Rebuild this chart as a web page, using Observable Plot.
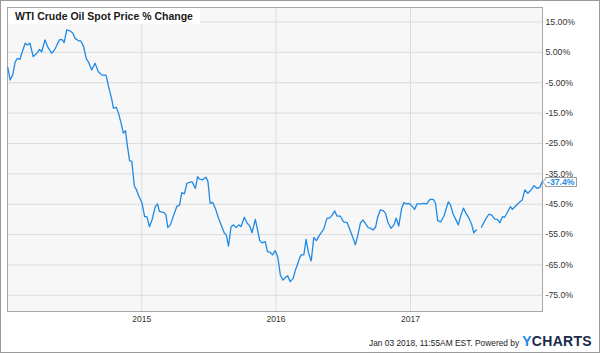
<!DOCTYPE html>
<html>
<head>
<meta charset="utf-8">
<script src="https://cdn.jsdelivr.net/npm/d3@7"></script>
<script src="https://cdn.jsdelivr.net/npm/@observablehq/plot@0.6"></script>
<style>
  html, body { margin: 0; padding: 0; background: #fff; }
  #wrap { position: relative; width: 600px; height: 353px; overflow: hidden; background: #fff; font-family: 'Liberation Sans', Arial, sans-serif; }
  #chart { position: absolute; left: 0; top: 0; }
  #outer { position: absolute; left: 0; top: 0; width: 600px; height: 353px; box-sizing: border-box; border: 1px solid #9a9a9a; pointer-events: none; }
  #title { position: absolute; left: 8px; top: 8px; width: 185px; height: 16px; padding-left: 7px; background: #fff; font-weight: bold; font-size: 10.5px; line-height: 17px; color: #1a1a1a; white-space: nowrap; }
  #credit { position: absolute; right: 8px; top: 333px; display: flex; align-items: baseline; white-space: nowrap; color: #222; font-size: 8.4px; }
  #credit .logo { font-size: 14px; font-weight: bold; margin-left: 3px; color: #1b2a48; letter-spacing: 0.3px; }
  #credit .logo .y { color: #1e8ae6; }
</style>
</head>
<body>
<div id="wrap">
  <div id="chart"></div>
  <div id="title"></div>
  <div id="credit"></div>
  <div id="outer"></div>
</div>
<script>
const titleText = "WTI Crude Oil Spot Price % Change";
const creditText = "Jan 03 2018, 11:55AM EST.  Powered by";
const logoText = ["Y", "CHARTS"];

const yTicks = [15, 5, -5, -15, -25, -35, -45, -55, -65, -75];
const yTickLabels = ["15.00%", "5.00%", "-5.00%", "-15.0%", "-25.0%", "-35.0%", "-45.0%", "-55.0%", "-65.0%", "-75.0%"];
const xTicks = ["2015-01-01", "2016-01-01", "2017-01-01"];
const xTickLabels = ["2015", "2016", "2017"];

const dates = [
  "2014-01-02","2014-01-08","2014-01-15","2014-01-22","2014-01-28","2014-02-04","2014-02-09","2014-02-18","2014-02-24","2014-03-03",
  "2014-03-12","2014-03-22","2014-03-29","2014-04-04","2014-04-13","2014-04-20","2014-05-01","2014-05-10","2014-05-22","2014-05-29",
  "2014-06-04","2014-06-11","2014-06-20","2014-06-28","2014-07-04","2014-07-13","2014-07-19","2014-07-27","2014-08-03","2014-08-09",
  "2014-08-18","2014-08-27","2014-09-05","2014-09-15","2014-09-26","2014-10-03","2014-10-12","2014-10-16","2014-10-24","2014-10-30",
  "2014-11-05","2014-11-12","2014-11-18","2014-11-22","2014-11-29","2014-12-05","2014-12-12","2014-12-17","2014-12-23","2015-01-02",
  "2015-01-09","2015-01-15","2015-01-22","2015-01-29","2015-02-07","2015-02-13","2015-02-18","2015-03-03","2015-03-08","2015-03-13",
  "2015-03-20","2015-03-29","2015-04-07","2015-04-14","2015-04-20","2015-04-27","2015-05-04","2015-05-11","2015-05-18","2015-05-27",
  "2015-06-02","2015-06-07","2015-06-15","2015-06-24","2015-06-30","2015-07-06","2015-07-13","2015-07-20","2015-07-29","2015-08-07",
  "2015-08-14","2015-08-19","2015-08-25","2015-09-01","2015-09-08","2015-09-15","2015-09-22","2015-09-28","2015-10-07","2015-10-14",
  "2015-10-22","2015-10-28","2015-11-06","2015-11-11","2015-11-18","2015-11-24","2015-12-03","2015-12-09","2015-12-17","2015-12-23",
  "2015-12-30","2016-01-06","2016-01-13","2016-01-20","2016-01-27","2016-02-02","2016-02-09","2016-02-17","2016-02-23","2016-02-28",
  "2016-03-06","2016-03-10","2016-03-17","2016-03-23","2016-03-30","2016-04-06","2016-04-13","2016-04-20","2016-04-29","2016-05-10",
  "2016-05-19","2016-05-26","2016-06-02","2016-06-09","2016-06-15","2016-06-24","2016-07-03","2016-07-13","2016-07-22","2016-07-29",
  "2016-08-04","2016-08-11","2016-08-18","2016-08-25","2016-08-31","2016-09-08","2016-09-14","2016-09-21","2016-09-28","2016-10-04",
  "2016-10-11","2016-10-19","2016-10-25","2016-11-01","2016-11-09","2016-11-17","2016-11-23","2016-11-30","2016-12-08","2016-12-14",
  "2016-12-21","2016-12-27","2017-01-03","2017-01-12","2017-01-19","2017-01-28","2017-02-06","2017-02-14","2017-02-23","2017-03-04",
  "2017-03-10","2017-03-16","2017-03-24","2017-04-02","2017-04-14","2017-04-20","2017-04-27","2017-05-04","2017-05-11","2017-05-17",
  "2017-05-25","2017-05-31","2017-06-09","2017-06-16","2017-06-22","2017-06-29","2017-07-05","2017-07-13","2017-07-22","2017-08-02",
  "2017-08-10","2017-08-18","2017-08-25","2017-09-01","2017-09-08","2017-09-14","2017-09-21","2017-09-30","2017-10-05","2017-10-14",
  "2017-10-23","2017-11-01","2017-11-08","2017-11-16","2017-11-26","2017-12-03","2017-12-12","2017-12-19","2017-12-26"
];

const values = [
  0.0, -4.1, -2.5, 1.9, 3.0, 2.7, 4.7, 8.0, 7.4, 8.0,
  3.6, 4.7, 6.0, 5.2, 9.1, 6.9, 4.7, 6.0, 9.1, 9.3,
  8.2, 12.4, 12.1, 11.3, 9.6, 8.8, 8.8, 6.9, 3.0, 1.9,
  -0.8, 1.4, -1.4, -2.5, -2.5, -6.3, -10.7, -13.4, -13.1, -15.1,
  -17.8, -21.6, -20.8, -24.9, -30.7, -30.8, -39.0, -40.1, -42.0, -44.7,
  -49.1, -49.1, -52.4, -50.2, -45.8, -44.9, -47.4, -47.8, -48.6, -52.7,
  -51.8, -48.6, -45.6, -45.3, -41.2, -41.6, -38.1, -37.8, -37.6, -39.8,
  -35.9, -36.7, -37.0, -36.1, -37.4, -44.7, -44.4, -46.3, -49.6, -52.4,
  -54.6, -55.1, -58.8, -52.4, -51.8, -52.7, -51.8, -52.4, -49.3, -51.1,
  -52.2, -54.4, -50.0, -52.9, -57.0, -57.7, -57.3, -60.6, -60.9, -61.7,
  -60.3, -62.3, -68.3, -70.0, -69.1, -68.6, -70.5, -69.4, -66.7, -65.0,
  -62.5, -61.7, -61.7, -56.6, -61.2, -63.7, -55.9, -57.0, -55.1, -53.2,
  -49.6, -49.6, -48.6, -47.2, -48.9, -48.9, -50.8, -51.1, -54.0, -56.2,
  -58.4, -55.1, -51.1, -50.2, -51.3, -52.7, -52.9, -53.5, -52.6, -49.1,
  -46.9, -47.1, -48.0, -51.1, -52.9, -51.8, -49.6, -52.2, -46.3, -44.5,
  -44.9, -44.7, -45.3, -46.7, -44.9, -44.9, -44.7, -44.9, -43.4, -43.4,
  -44.7, -50.4, -50.8, -48.9, -44.2, -45.3, -48.3, -50.0, -51.8, -49.1,
  -46.3, -47.8, -49.6, -51.5, -54.4, -53.5, null, -52.6, -50.4, -48.3,
  -48.6, -49.9, -50.0, -51.1, -49.1, -49.3, -47.8, -45.8, -46.7, -45.6,
  -44.5, -43.6, -40.3, -41.4, -40.1, -38.9, -39.8, -39.4, -37.4
];

const data = dates.map((d, i) => ({date: new Date(d), value: values[i]}));
const last = data[data.length - 1];
const lineColor = "#1e8ae6";

document.getElementById("title").textContent = titleText;
const credit = document.getElementById("credit");
credit.innerHTML = "";
const cSpan = document.createElement("span"); cSpan.textContent = creditText; credit.appendChild(cSpan);
const logo = document.createElement("span"); logo.className = "logo";
const ly = document.createElement("span"); ly.className = "y"; ly.textContent = logoText[0];
logo.appendChild(ly); logo.appendChild(document.createTextNode(logoText[1]));
credit.appendChild(logo);

const chart = Plot.plot({
  width: 600,
  height: 330,
  marginTop: 7,
  marginLeft: 7,
  marginRight: 58,
  marginBottom: 19,
  style: {fontFamily: "'Liberation Sans', Arial, sans-serif", fontSize: "8.7px", color: "#333", background: "transparent", overflow: "visible"},
  x: {type: "utc", domain: [new Date("2014-01-01"), new Date("2017-12-26")]},
  y: {domain: [-80.33, 19.77]},
  marks: [
    Plot.frame({fill: "#f7f7f7", stroke: null}),
    Plot.ruleY(yTicks, {stroke: "#dcdcdc", strokeOpacity: 1}),
    Plot.ruleX(xTicks.map(d => new Date(d)), {stroke: "#dcdcdc", strokeOpacity: 1}),
    Plot.axisY({anchor: "right", ticks: yTicks, tickFormat: (d, i) => yTickLabels[i], tickSize: 0, tickPadding: 3, label: null, fill: "#333"}),
    Plot.axisX({ticks: xTicks.map(d => new Date(d)), tickFormat: (d, i) => xTickLabels[i], tickSize: 0, tickPadding: 4, label: null, fill: "#333", fontSize: 8.5}),
    Plot.frame({stroke: "#a6a6a6", fill: null}),
    Plot.line(data, {x: "date", y: "value", stroke: lineColor, strokeWidth: 1.3}),
    Plot.text([last], {x: "date", y: "value", text: d => d.value.toFixed(1) + "%", dx: 4.5, dy: 1.5, textAnchor: "start", fill: lineColor, fontWeight: "bold", fontSize: 8.7, ariaLabel: () => "callout"})
  ]
});
document.getElementById("chart").appendChild(chart);

// callout box with pointer, placed from the rendered text's screen box
const tNode = chart.querySelector('text[aria-label="callout"]');
if (tNode) {
  const cg = tNode.parentNode;
  const sr = chart.getBoundingClientRect();
  const r = tNode.getBoundingClientRect();
  const x0 = Math.round(r.left - sr.left) - 1.5, x1 = Math.round(r.right - sr.left) + 1.5;
  const y0 = Math.round(r.top - sr.top) + 0.5, y1 = Math.round(r.bottom - sr.top) - 0.5;
  const cy = (y0 + y1) / 2;
  const p = `M${x0 - 3},${cy}L${x0},${cy - 3}L${x0},${y0}L${x1},${y0}L${x1},${y1}L${x0},${y1}L${x0},${cy + 3}Z`;
  const path = document.createElementNS("http://www.w3.org/2000/svg", "path");
  path.setAttribute("d", p);
  path.setAttribute("fill", "#ffffff");
  path.setAttribute("stroke", "#9c9c9c");
  path.setAttribute("stroke-width", "1");
  chart.appendChild(path);
  chart.appendChild(cg);
}
</script>
</body>
</html>
